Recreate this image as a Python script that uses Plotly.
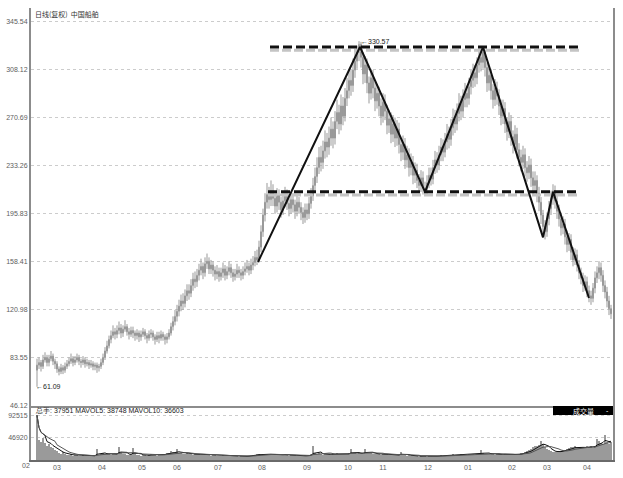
import plotly.graph_objects as go
import pandas as pd

# ---------------- data ----------------
opens = [74,78,80,77,82,84,80,83,85,81, 79,75,73,76,74,77,
         79,81,83,80,82,84,81,80,82,79,80,78,79,77,78,76,
         77,80,84,89,93,98,101,104, 102,105,107,103,106,108,104,102,105,103,
         101,103,100,102,104,101,99,102,103,100,98,101,99,102,100,98,100,
         103,108,112,116,120, 124,128,126,132,136,134,140,145,143,148,
         152,155,150,157,159,153,156,152,
         149,151,147,150,153,148,151,154,150,147,149,152,150,148,151,153,155,
         152,156,158,162, 160,170,182,195,205,211,207,
         214,208,202,210,205,199,206,211,204,200,207,203,198,205,
         201,197,193,199,196,204, 210,218,225,232,240,236,245,252,248,
         255,262,255,268,275,266,280,272, 286,292,300,296,308,315,322,
         328,318,305,312,298,290,302,294,284,290,
         280,272,283,276,265,270,258,266,255,262,
         250,244,250,238,242,232,236,226,230,222,218,224,216,
         215,220,226,223,232,238,234,242,248,244,
         252,258,254,263,270,266,274,282,276,285,290,286,
         295,300,306,302,312,318,314, 322,310,298,304,292,285,294,288,
         280,272,278,266,260,268,256,250,258,246,
         240,236,242,232,228,234,224,218,222,212,
         205,195,186, 182,192,200,208,214,
         206,198,192,185,188,178,172,176,166,160,
         164,156,150,146,140,143,136,132, 130,138,146,150,154,
         148,140,135,128,122]
closes = [78,80,77,82,84,80,83,85,81,79, 75,73,76,74,77,79,
          81,83,80,82,84,81,80,82,79,80,78,79,77,78,76,77,
          80,84,89,93,98,101,104,102, 105,107,103,106,108,104,102,105,103,101,
          103,100,102,104,101,99,102,103,100,98,101,99,102,100,98,100,103,
          108,112,116,120,124, 128,126,132,136,134,140,145,143,148,152,
          155,150,157,159,153,156,152,149,
          151,147,150,153,148,151,154,150,147,149,152,150,148,151,153,155,152,
          156,158,162,160, 170,182,195,205,211,207,214,
          208,202,210,205,199,206,211,204,200,207,203,198,205,201,
          197,193,199,196,204,210, 218,225,232,240,236,245,252,248,255,
          262,255,268,275,266,280,272,286, 292,300,296,308,315,322,328,
          318,305,312,298,290,302,294,284,290,280,
          272,283,276,265,270,258,266,255,262,250,
          244,250,238,242,232,236,226,230,222,218,224,216,215,
          220,226,223,232,238,234,242,248,244,252,
          258,254,263,270,266,274,282,276,285,290,286,295,
          300,306,302,312,318,314,322, 310,298,304,292,285,294,288,280,
          272,278,266,260,268,256,250,258,246,240,
          236,242,232,228,234,224,218,222,212,205,
          195,186,182, 192,200,208,214,206,
          198,192,185,188,178,172,176,166,160,164,
          156,150,146,140,143,136,132,130, 138,146,150,154,148,
          140,135,128,122,118]
highs = [83,84,82,86,88,86,86,89,87,83, 81,77,79,78,80,82,
         84,87,85,85,87,86,83,85,84,83,82,82,81,80,80,79,
         83,87,92,97,101,105,109,107, 109,112,110,109,113,110,107,108,108,105,
         106,105,105,107,106,103,105,106,105,102,104,104,105,104,102,103,106,
         111,116,121,125,129, 133,134,137,141,141,145,150,151,153,157,
         161,158,162,165,162,160,159,155,
         156,154,154,158,156,155,159,157,153,153,157,155,153,155,158,160,158,
         161,163,167,168, 175,187,200,212,220,217,222,
         219,213,216,215,209,212,217,215,208,213,212,207,211,209,
         205,201,204,204,209,216, 224,232,240,248,249,253,261,259,264,
         271,268,276,285,281,289,287,294, 302,309,308,317,323,327,330.57,
         330,322,319,317,303,309,308,299,297,295,
         286,290,289,281,277,275,273,271,269,267,
         255,257,255,249,247,243,241,236,235,227,230,229,221,
         226,232,232,238,245,244,249,255,254,259,
         266,264,270,278,277,282,290,288,293,298,296,302,
         308,313,312,318,323,322,325, 324,314,311,309,297,301,299,293,
         285,285,283,271,275,273,261,265,263,251,
         246,249,247,237,241,239,229,229,226,217,
         209,199,191, 197,206,214,219,218,
         211,203,197,194,192,183,181,180,170,169,
         168,160,154,150,148,147,140,136, 142,151,155,159,158,
         152,144,139,132,125]
lows = [61.09,75,73,75,80,77,77,81,78,75, 72,70,71,71,72,75,
        77,79,77,78,80,78,76,78,76,77,75,76,74,74,72,73,
        75,78,82,87,91,95,99,98, 99,102,99,100,104,101,98,100,99,97,
        98,96,97,100,98,95,97,99,97,94,96,95,97,97,94,95,98,
        101,105,109,112,116, 120,121,123,128,129,131,136,138,139,144,
        148,145,147,153,149,149,147,144,
        145,143,144,146,144,145,148,146,143,144,146,146,144,145,148,150,148,
        149,152,155,156, 158,166,178,190,200,200,202,
        202,196,197,199,193,195,201,199,194,196,197,192,194,196,
        191,188,189,191,192,200, 206,213,220,227,229,231,239,240,242,
        249,247,250,262,258,261,265,268, 280,286,288,291,302,309,315,
        310,297,298,290,282,285,286,276,278,272,
        265,267,269,258,259,251,252,248,249,243,
        237,238,231,232,225,226,219,220,216,212,213,211,210,
        211,216,218,219,227,228,230,237,237,240,
        246,247,249,257,259,261,268,269,271,279,279,281,
        289,294,295,297,306,307,309, 303,291,292,285,278,280,281,273,
        265,266,259,253,255,249,243,245,239,233,
        229,231,225,221,223,217,211,212,205,198,
        188,178,176, 178,187,195,203,200,
        192,186,179,180,172,166,167,160,155,156,
        151,145,141,135,136,131,127,125, 127,134,142,145,143,
        135,130,123,117,114]
volumes = [92515,42000,38000,45000,36000,30000,33000,27000,24000,21000,
           18000,15000,13000,16000,12000,11000,10000,12000,9000,11000,
           10000,9000,8000,10000,9000,8000,9500,8000,9000,10000,
           23000,11000,12000,14000,13000,15000,12000,11000,13000,12000,
           14000,27000,16000,13000,12000,11000,10000,12000,25000,13000,
           11000,10000,9000,11000,10000,9000,10000,12000,11000,10000,
           9000,11000,12000,13000,12000,14000,15000,18000,16000,14000,
           22000,15000,14000,13000,12000,14000,13000,12000,11000,12000,
           13000,12000,11000,10000,12000,11000,10000,9000,10000,11000,
           9000,8000,9000,10000,8000,9000,8000,7500,8000,9000,
           8000,7000,8000,9000,8000,7500,8000,9000,10000,11000,
           13000,12000,11000,12000,13000,12000,11000,12000,10000,11000,
           12000,11000,10000,11000,12000,10000,9000,10000,11000,10000,
           9000,8000,9000,8000,10000,9000,8000,12000,29000,15000,
           13000,14000,12000,11000,12000,13000,12000,11000,13000,12000,
           14000,13000,12000,13000,12000,13000,14000,22000,15000,14000,
           13000,14000,15000,13000,22000,16000,15000,14000,13000,12000,
           13000,12000,11000,12000,13000,12000,11000,10000,11000,10000,
           11000,10000,17000,11000,10000,9000,10000,9000,8000,9000,
           8000,7000,8000,9000,8000,7000,8000,9000,8000,7500,
           8000,9000,10000,9000,8000,9000,10000,11000,12000,11000,
           10000,11000,12000,11000,10000,11000,12000,13000,12000,11000,
           12000,13000,20000,14000,13000,12000,13000,14000,12000,11000,
           12000,13000,12000,11000,12000,13000,12000,11000,10000,11000,
           12000,13000,14000,15000,16000,18000,20000,22000,26000,30000,
           28000,32000,40000,34000,26000,22000,20000,18000,17000,16000,
           17000,18000,19000,21000,20000,22000,24000,27000,26000,29000,
           25000,24000,26000,27000,25000,28000,27000,29000,
           24000,30000,44000,39000,35290,
           33000,52000,38000,32789,37951]

month_pos = [10, 32.5, 52.5, 70, 90.5, 112.5, 135, 155.5, 173, 195.5, 215.5, 237.5, 255, 275]
month_labels = ["03", "04", "05", "06", "07", "08", "09", "10", "11", "12", "01", "02", "03", "04"]
first_month_label = "02"

price_ticks = [46.12, 83.55, 120.98, 158.41, 195.83, 233.26, 270.69, 308.12, 345.54]
vol_ticks = [46920, 92515]

# hand-drawn double-top pattern
pattern_x = [110.5, 161.5, 194, 223, 253, 258, 276]
pattern_y = [158.4, 326, 213, 326, 177.6, 213.2, 130.3]
top_line_x = [116.5, 272.5]
top_line_y = [326, 326]
neck_x = [115.5, 271.5]
neck_y = [213.2, 213.2]

peak_idx, peak_val = 161, 330.57
low_idx, low_val = 0, 61.09
info_text = "总手: 37951 MAVOL5: 38748 MAVOL10: 36603"
title_text = "日线(复权)  中国船舶"

# ---------------- figure ----------------
idx = list(range(len(closes)))
vol = pd.Series(volumes)
ma5 = vol.rolling(5, min_periods=1).mean()
ma10 = vol.rolling(10, min_periods=1).mean()

W, H = 623, 478
ML, MR, MT, MB = 31, 10, 8, 18
ph = H - MT - MB
split = (H - MB - 406) / ph

fig = go.Figure()

fig.add_trace(go.Candlestick(
    x=idx, open=opens, high=highs, low=lows, close=closes,
    increasing=dict(line=dict(color="#999999", width=1), fillcolor="#ffffff"),
    decreasing=dict(line=dict(color="#999999", width=1), fillcolor="#b8b8b8"),
    whiskerwidth=0, showlegend=False, hoverinfo="skip",
    xaxis="x", yaxis="y"))

for lx, ly in [(top_line_x, top_line_y), (neck_x, neck_y)]:
    fig.add_trace(go.Scatter(x=lx, y=[v - 2.6 for v in ly], mode="lines",
                             line=dict(color="#c4c4c4", width=3, dash="9px,3px"),
                             showlegend=False, hoverinfo="skip", xaxis="x", yaxis="y"))
    fig.add_trace(go.Scatter(x=lx, y=ly, mode="lines",
                             line=dict(color="#111111", width=3, dash="9px,4px"),
                             showlegend=False, hoverinfo="skip", xaxis="x", yaxis="y"))

fig.add_trace(go.Scatter(x=pattern_x, y=pattern_y, mode="lines",
                         line=dict(color="#111111", width=2),
                         showlegend=False, hoverinfo="skip", xaxis="x", yaxis="y"))

fig.add_trace(go.Bar(x=idx, y=volumes, marker=dict(color="#9a9a9a", line=dict(width=0)),
                     width=0.7, showlegend=False, hoverinfo="skip", xaxis="x2", yaxis="y2"))
fig.add_trace(go.Scatter(x=idx, y=ma5, mode="lines", line=dict(color="#111111", width=1),
                         showlegend=False, hoverinfo="skip", xaxis="x2", yaxis="y2"))
fig.add_trace(go.Scatter(x=idx, y=ma10, mode="lines", line=dict(color="#555555", width=1),
                         showlegend=False, hoverinfo="skip", xaxis="x2", yaxis="y2"))

tick_font = dict(family="Liberation Sans", size=7, color="#606060")
grid = dict(showgrid=True, gridcolor="#cccccc", griddash="dot", gridwidth=1)

fig.update_layout(
    width=W, height=H, margin=dict(l=ML, r=MR, t=MT, b=MB, autoexpand=False),
    paper_bgcolor="white", plot_bgcolor="white",
    bargap=0,
    xaxis=dict(domain=[0, 1], range=[-3, 288], anchor="y", showticklabels=False,
               showgrid=False, zeroline=False, rangeslider=dict(visible=False),
               showline=True, linecolor="#8c8c8c", linewidth=2, automargin=False),
    yaxis=dict(domain=[split, 1], range=[46.12, 356.42], tickvals=price_ticks,
               ticktext=["%.2f" % v for v in price_ticks], tickfont=tick_font,
               ticks="", zeroline=False, showline=True, linecolor="#8c8c8c",
               linewidth=2, mirror=True, automargin=False, **grid),
    xaxis2=dict(domain=[0, 1], range=[-3, 288], anchor="y2", matches="x",
                tickvals=month_pos, ticktext=month_labels, tickfont=tick_font,
                ticks="", showgrid=False, zeroline=False, automargin=False,
                showline=True, linecolor="#6a6a6a", linewidth=2),
    yaxis2=dict(domain=[0, split], range=[0, 111900], tickvals=vol_ticks,
                ticktext=[str(v) for v in vol_ticks], tickfont=tick_font,
                ticks="", zeroline=False, showline=True, linecolor="#8c8c8c",
                linewidth=2, mirror=True, automargin=False, **grid),
    font=dict(family="Noto Sans CJK SC"),
)

def px_x(p):
    return (p - ML) / (W - ML - MR)

def px_y(p):
    return (H - MB - p) / ph

fig.add_shape(type="rect", xref="paper", yref="paper",
              x0=px_x(553), x1=1.0, y0=px_y(415), y1=split,
              fillcolor="#000000", line=dict(width=0))

ann = [
    dict(text=title_text, x=px_x(33), y=px_y(14), xanchor="left", yanchor="middle",
         font=dict(family="Noto Sans CJK SC", size=7, color="#333333")),
    dict(text=info_text, x=px_x(33), y=px_y(410), xanchor="left", yanchor="middle",
         font=dict(family="Liberation Sans", size=7, color="#222222")),
    dict(text="成交量", x=px_x(583), y=px_y(410.5), xanchor="center", yanchor="middle",
         font=dict(family="Noto Sans CJK SC", size=7, color="#ffffff")),
    dict(text="-", x=px_x(607), y=px_y(410.5), xanchor="center", yanchor="middle",
         font=dict(family="Liberation Sans", size=7, color="#ffffff")),
    dict(text=first_month_label, x=px_x(26), y=px_y(465), xanchor="center", yanchor="middle",
         font=tick_font),
]
for a in ann:
    a.update(xref="paper", yref="paper", showarrow=False)
    fig.add_annotation(**a)

fig.add_annotation(x=peak_idx, y=peak_val, xref="x", yref="y", text="←%.2f" % peak_val,
                   showarrow=False, xanchor="left", yanchor="middle", xshift=0,
                   font=dict(family="Liberation Sans", size=7, color="#222222"))
fig.add_annotation(x=low_idx, y=low_val, xref="x", yref="y", text="←%.2f" % low_val,
                   showarrow=False, xanchor="left", yanchor="middle", xshift=-3,
                   font=dict(family="Liberation Sans", size=7, color="#222222"))

fig.write_html("out.html", config={"displayModeBar": False},
               post_script="document.body.style.margin='0';document.body.style.overflow='hidden';")
